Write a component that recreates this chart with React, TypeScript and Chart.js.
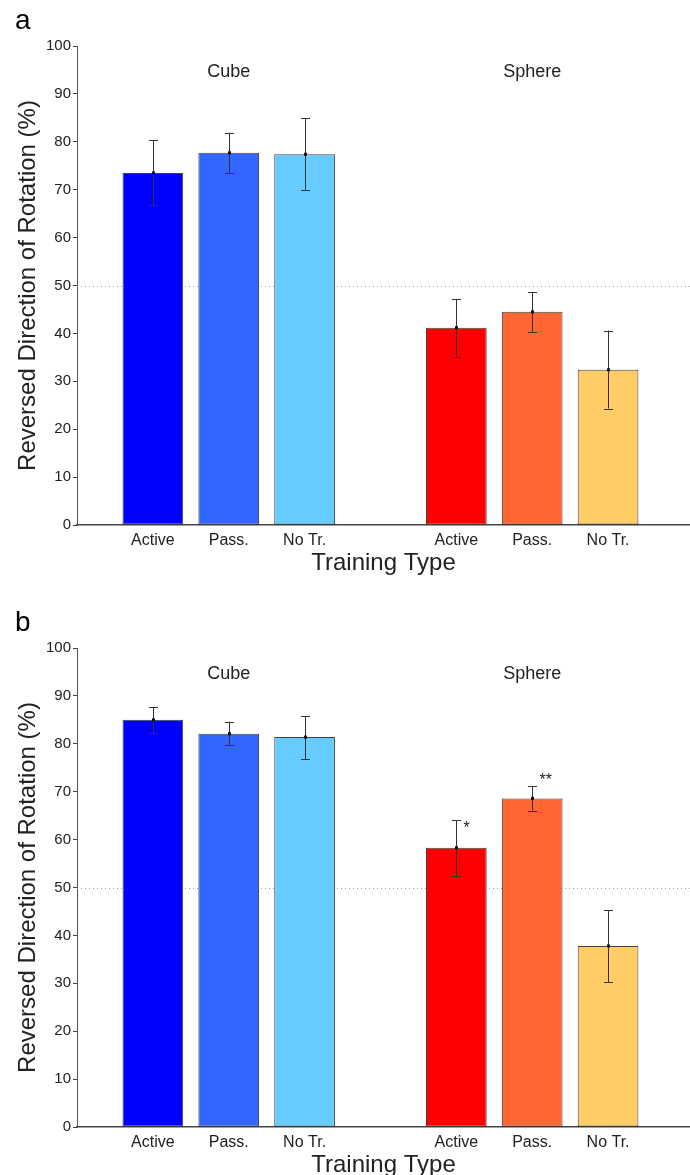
import React, { useEffect, useRef } from "react";
import { Chart, registerables } from "chart.js";

Chart.register(...registerables);

const FONT = "'Liberation Sans', Arial, Helvetica, sans-serif";

// ---- data ----
const categories = ["Active", "Pass.", "No Tr.", "Active", "Pass.", "No Tr."];
const positions = [1, 2, 3, 5, 6, 7];
const xMin = 0;
const xMax = 8.08;
const groupLabels = ["Cube", "Sphere"];
const groupPositions = [2, 6];
const groupLabelValue = 94.5;
const barColors = ["#0000FF", "#3366FF", "#66CCFF", "#FF0000", "#FF6633", "#FFCC66"];
const chanceLevel = 50;
const yTitle = "Reversed Direction of Rotation (%)";
const xTitle = "Training Type";

const meansA = [73.5, 77.7, 77.4, 41.2, 44.5, 32.4];
const lowsA = [66.8, 73.5, 70.0, 35.1, 40.3, 24.3];
const highsA = [80.3, 81.9, 84.9, 47.2, 48.7, 40.6];
const starsA = ["", "", "", "", "", ""];
const starValuesA: (number | null)[] = [null, null, null, null, null, null];

const meansB = [85.0, 82.1, 81.4, 58.3, 68.6, 37.8];
const lowsB = [82.3, 79.8, 76.8, 52.3, 66.0, 30.2];
const highsB = [87.7, 84.6, 85.8, 64.1, 71.2, 45.3];
const starsB = ["", "", "", "*", "**", ""];
const starValuesB: (number | null)[] = [null, null, null, 63.2, 73.3, null];

const CANVAS_W = 690;
const CANVAS_H = 602;

type PanelProps = {
  letter: string;
  means: number[];
  lows: number[];
  highs: number[];
  stars: string[];
  starValues: (number | null)[];
};

function Panel({ letter, means, lows, highs, stars, starValues }: PanelProps) {
  const ref = useRef<HTMLCanvasElement | null>(null);

  useEffect(() => {
    if (!ref.current) return;

    const overlay = {
      id: "overlay",
      beforeDatasetsDraw(chart: any) {
        const { ctx, chartArea, scales } = chart;
        const y = scales.y;
        const yy = Math.round(y.getPixelForValue(chanceLevel)) + 0.5;
        ctx.save();
        ctx.strokeStyle = "#a0a0a0";
        ctx.lineWidth = 1;
        ctx.setLineDash([1, 3]);
        ctx.beginPath();
        ctx.moveTo(chartArea.left, yy);
        ctx.lineTo(chartArea.right, yy);
        ctx.stroke();
        ctx.restore();
      },
      afterDatasetsDraw(chart: any) {
        const { ctx, scales } = chart;
        const x = scales.x;
        const y = scales.y;
        ctx.save();
        positions.forEach((pos, i) => {
          const px = Math.round(x.getPixelForValue(pos)) + 0.5;
          const yl = y.getPixelForValue(lows[i]);
          const yh = y.getPixelForValue(highs[i]);
          const ym = y.getPixelForValue(means[i]);
          ctx.strokeStyle = "#333";
          ctx.lineWidth = 1;
          ctx.beginPath();
          ctx.moveTo(px, yl);
          ctx.lineTo(px, yh);
          ctx.moveTo(px - 4.5, Math.round(yl) + 0.5);
          ctx.lineTo(px + 4.5, Math.round(yl) + 0.5);
          ctx.moveTo(px - 4.5, Math.round(yh) + 0.5);
          ctx.lineTo(px + 4.5, Math.round(yh) + 0.5);
          ctx.stroke();
          ctx.fillStyle = "#111";
          ctx.fillRect(px - 1.5, ym - 1.5, 3, 3);
          const sv = starValues[i];
          if (stars[i] && sv !== null) {
            ctx.fillStyle = "#222";
            ctx.font = `16px ${FONT}`;
            ctx.textAlign = "left";
            ctx.textBaseline = "alphabetic";
            ctx.fillText(stars[i], px + 7, y.getPixelForValue(sv) + 9);
          }
        });
        ctx.fillStyle = "#222";
        ctx.font = `18px ${FONT}`;
        ctx.textAlign = "center";
        ctx.textBaseline = "middle";
        groupLabels.forEach((g, i) => {
          ctx.fillText(g, x.getPixelForValue(groupPositions[i]), y.getPixelForValue(groupLabelValue));
        });
        ctx.restore();
      },
      afterDraw(chart: any) {
        const { ctx } = chart;
        ctx.save();
        ctx.fillStyle = "#000";
        ctx.font = `28px ${FONT}`;
        ctx.textAlign = "left";
        ctx.textBaseline = "alphabetic";
        ctx.fillText(letter, 15, 29);
        ctx.restore();
      },
    };

    const chart = new Chart(ref.current, {
      type: "bar",
      data: {
        datasets: [
          {
            data: positions.map((p, i) => ({ x: p, y: means[i] })) as any,
            backgroundColor: barColors,
            borderColor: "rgba(0,0,0,0.75)",
            borderWidth: 1,
            borderSkipped: false,
            barPercentage: 0.8,
            categoryPercentage: 1,
          },
        ],
      },
      options: {
        responsive: false,
        animation: false,
        devicePixelRatio: 1,
        layout: { padding: { top: 46, right: 0, left: 0, bottom: 0 } },
        plugins: {
          legend: { display: false },
          tooltip: { enabled: false },
        },
        scales: {
          x: {
            type: "linear",
            min: xMin,
            max: xMax,
            offset: false,
            grid: { display: false, drawTicks: false, offset: false },
            border: { display: true, color: "#444", width: 1.5 },
            afterBuildTicks: (s: any) => {
              s.ticks = positions.map((v) => ({ value: v }));
            },
            afterFit: (s: any) => {
              s.height = 77;
            },
            ticks: {
              autoSkip: false,
              maxRotation: 0,
              padding: 6,
              color: "#222",
              font: { family: FONT, size: 16 },
              callback: (v: any) => {
                const idx = positions.indexOf(Number(v));
                return idx >= 0 ? categories[idx] : "";
              },
            },
            title: {
              display: true,
              text: xTitle,
              color: "#222",
              font: { family: FONT, size: 24 },
              padding: { top: 0, bottom: 24 },
            },
          },
          y: {
            min: 0,
            max: 100,
            grid: {
              drawOnChartArea: false,
              drawTicks: true,
              tickLength: 4,
              tickColor: "#444",
            },
            border: { display: true, color: "#555", width: 1 },
            afterFit: (s: any) => {
              s.width = 77;
            },
            ticks: {
              stepSize: 10,
              padding: 2,
              color: "#222",
              font: { family: FONT, size: 15 },
            },
            title: {
              display: true,
              text: yTitle,
              color: "#222",
              font: { family: FONT, size: 24 },
              padding: { top: 14, bottom: 0 },
            },
          },
        },
      } as any,
      plugins: [overlay],
    });

    return () => chart.destroy();
  }, [letter, means, lows, highs, stars, starValues]);

  return (
    <div style={{ width: CANVAS_W, height: CANVAS_H, position: "relative" }}>
      <canvas
        ref={ref}
        width={CANVAS_W}
        height={CANVAS_H}
        style={{ display: "block", width: CANVAS_W, height: CANVAS_H }}
      />
    </div>
  );
}

export default function App() {
  return (
    <div
      style={{
        position: "absolute",
        left: 0,
        top: 0,
        width: 690,
        height: 1175,
        overflow: "hidden",
        background: "#fff",
      }}
    >
      <Panel letter="a" means={meansA} lows={lowsA} highs={highsA} stars={starsA} starValues={starValuesA} />
      <Panel letter="b" means={meansB} lows={lowsB} highs={highsB} stars={starsB} starValues={starValuesB} />
    </div>
  );
}
